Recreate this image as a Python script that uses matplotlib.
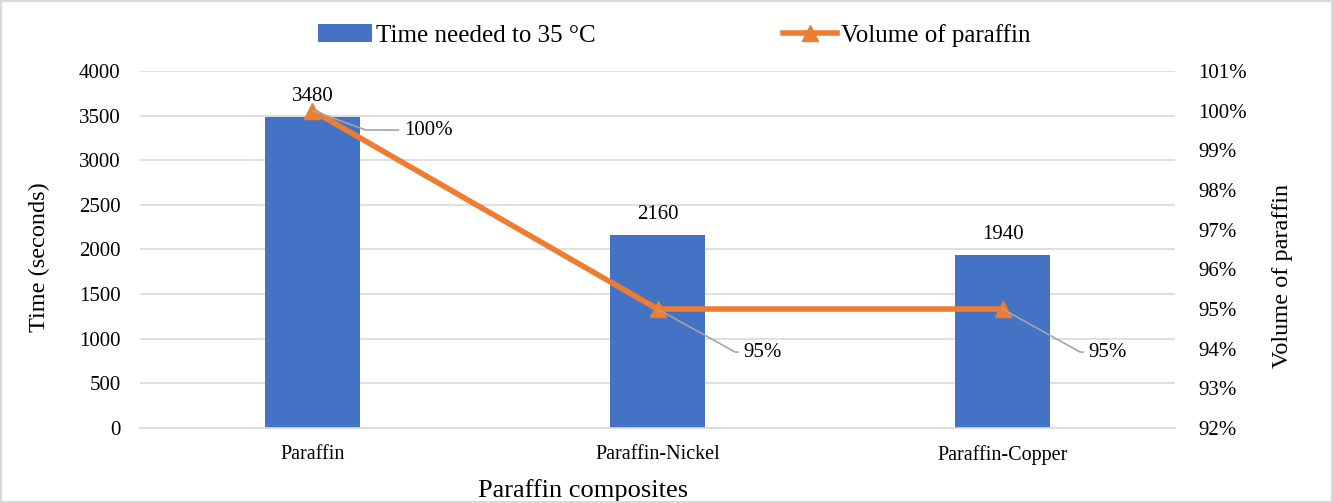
import numpy as np
import matplotlib
matplotlib.use('Agg')
import matplotlib.pyplot as plt
from matplotlib.patches import Rectangle

plt.rcParams['font.family'] = ['Liberation Serif', 'DejaVu Serif']

categories = ['Paraffin', 'Paraffin-Nickel', 'Paraffin-Copper']
time_needed = [3480, 2160, 1940]
volume_pct = [100, 95, 95]
volume_labels = ['100%', '95%', '95%']

bar_color = '#4472C4'
line_color = '#ED7D31'
grid_color = '#D9D9D9'

fig = plt.figure(figsize=(13.33, 5.03), dpi=100)
ax1 = fig.add_axes([0.105, 0.149, 0.7765, 0.710])
ax2 = ax1.twinx()

x = np.arange(len(categories))
bars = ax1.bar(x, time_needed, width=0.275, color=bar_color, zorder=2,
               label='Time needed to 35 \u00b0C')
ax1.set_ylim(0, 4000)
ax1.set_yticks(np.arange(0, 4001, 500))
ax1.set_xlim(-0.5, 2.5)
ax1.set_xticks(x)
ax1.set_xticklabels(categories, fontsize=14.5)
ax1.yaxis.grid(True, color=grid_color, linewidth=1.2, zorder=0)
ax1.set_axisbelow(True)
ax1.tick_params(axis='y', labelsize=15, length=0, pad=14)
ax1.tick_params(axis='x', length=0, pad=12)
ax1.set_ylabel('Time (seconds)', fontsize=17.5)
ax1.yaxis.set_label_coords(-0.087, 0.479)
ax1.set_xlabel('Paraffin composites', fontsize=19)
ax1.xaxis.set_label_coords(0.428, -0.143)
for side in ['top', 'left', 'right']:
    ax1.spines[side].set_visible(False)
    ax2.spines[side].set_visible(False)
ax1.spines['bottom'].set_color(grid_color)
ax1.spines['bottom'].set_linewidth(1.2)
ax2.spines['bottom'].set_visible(False)

for xi, v in zip(x, time_needed):
    ax1.annotate(str(v), (xi, v), xytext=(0, 8), textcoords='offset points',
                 ha='center', va='bottom', fontsize=15)

line, = ax2.plot(x, volume_pct, color=line_color, linewidth=4, marker='^',
                 markersize=11, zorder=3, label='Volume of paraffin')
ax2.set_ylim(92, 101)
ax2.set_yticks(np.arange(92, 102, 1))
ax2.set_yticklabels([f'{t}%' for t in range(92, 102)])
ax2.tick_params(axis='y', labelsize=15, length=0, pad=17)
ax2.set_ylabel('Volume of paraffin', fontsize=17.5)
ax2.yaxis.set_label_coords(1.094, 0.426)

offsets = [(66, -14), (62, -31), (62, -31)]
angles = [-20, -29, -29]
for xi, v, lab, off, ang in zip(x, volume_pct, volume_labels, offsets, angles):
    ax2.annotate(lab, (xi, v), xytext=off, textcoords='offset points',
                 ha='left', va='center', fontsize=15,
                 arrowprops=dict(arrowstyle='-', color='#A5A5A5', lw=1.2,
                                 shrinkA=2, shrinkB=0,
                                 connectionstyle=f'angle,angleA=0,angleB={ang},rad=0'))

fig.legend([bars, line], ['Time needed to 35 \u00b0C', 'Volume of paraffin'],
           loc='center', bbox_to_anchor=(0.5056, 0.930), ncol=2, frameon=False,
           fontsize=18, columnspacing=7.5, handlelength=2.16, handletextpad=0.15)

fig.patches.append(Rectangle((0.001, 0.001), 0.998, 0.998, transform=fig.transFigure,
                             fill=False, edgecolor='#D9D9D9', linewidth=1.5))

fig.savefig('out.png', dpi=100)
